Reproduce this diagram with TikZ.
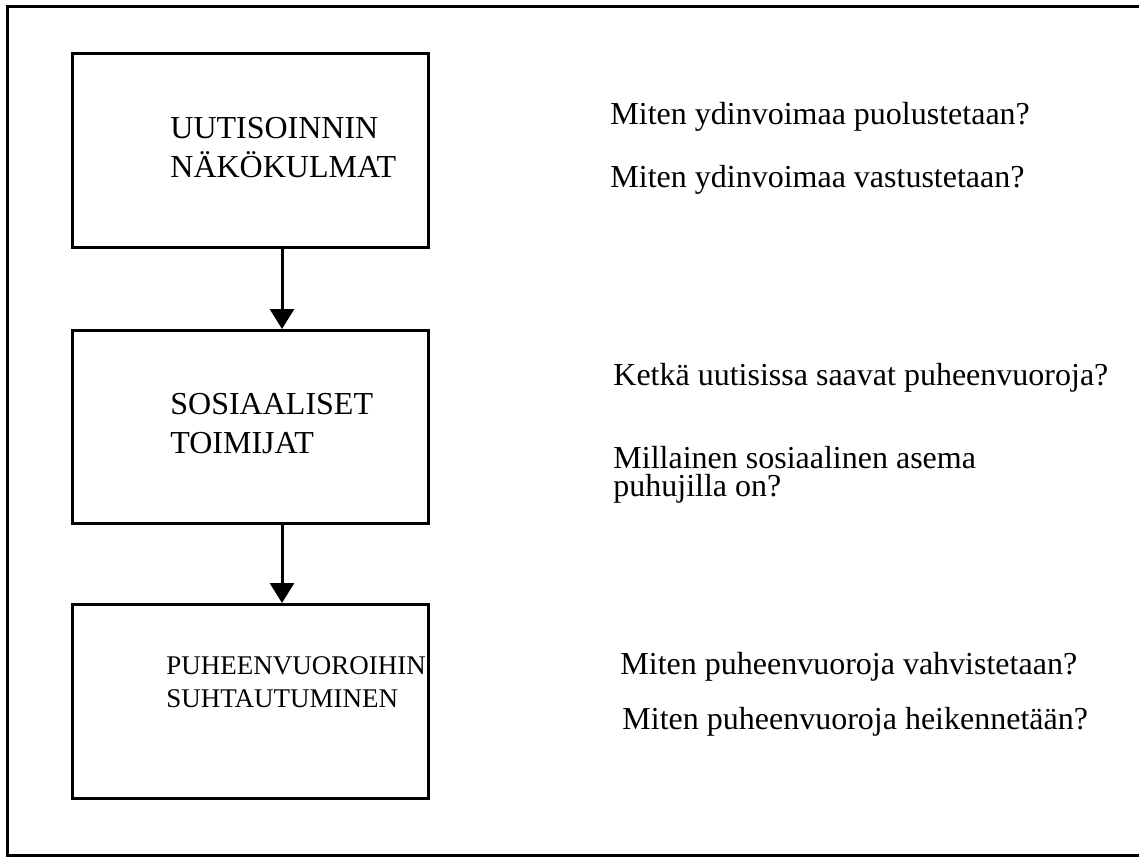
\documentclass[tikz,border=0pt]{standalone}
\usepackage{fontspec}
\setmainfont{Liberation Serif}
\usetikzlibrary{arrows.meta}
\tikzset{
  box/.style={draw, line width=1.5pt, minimum width=178pt, inner sep=0pt, anchor=north west},
  lbl/.style={font=\fontsize{16}{19.5}\selectfont, anchor=base west, inner sep=0pt},
  lblsmall/.style={font=\fontsize{13.5}{16.5}\selectfont, anchor=base west, inner sep=0pt},
  arr/.style={line width=1.5pt, -{Triangle[width=12pt,length=10pt]}},
  frame/.style={line width=1.5pt}
}
\begin{document}
\begin{tikzpicture}[x=0.5pt,y=-0.5pt]
\useasboundingbox (0,0) rectangle (1139,856);
\clip (0,0) rectangle (1139,856);
\fill[white] (0,0) rectangle (1139,856);
\draw[frame] (7,6.5) rectangle (1146,855);
% boxes
\node[box, minimum height=97pt] (b1) at (71,52) {};
\node[box, minimum height=96.5pt] (b2) at (71,329) {};
\node[box, minimum height=97pt] (b3) at (71,603) {};
% box texts
\node[lbl] (t1a) at (170,138) {UUTISOINNIN};
\node[lbl] (t1b) at (170,177) {NÄKÖKULMAT};
\node[lbl] (t2a) at (170,414) {SOSIAALISET};
\node[lbl] (t2b) at (170,453) {TOIMIJAT};
\node[lblsmall] (t3a) at (166,674) {PUHEENVUOROIHIN};
\node[lblsmall] (t3b) at (166,707) {SUHTAUTUMINEN};
% questions
\node[lbl] (q1a) at (610,125) {Miten ydinvoimaa puolustetaan?};
\node[lbl] (q1b) at (610,187) {Miten ydinvoimaa vastustetaan?};
\node[lbl] (q2a) at (613,385) {Ketkä uutisissa saavat puheenvuoroja?};
\node[lbl, font=\fontsize{16}{14}\selectfont, align=left, anchor=north west] (q2b) at (613,446) {Millainen sosiaalinen asema\\puhujilla on?};
\node[lbl] (q3a) at (620,674) {Miten puheenvuoroja vahvistetaan?};
\node[lbl] (q3b) at (622,729) {Miten puheenvuoroja heikennetään?};
% arrows
\coordinate (xa) at (282,0);
\draw[arr] (b1.south -| xa) -- (b2.north -| xa);
\draw[arr] (b2.south -| xa) -- (b3.north -| xa);
\end{tikzpicture}
\end{document}
